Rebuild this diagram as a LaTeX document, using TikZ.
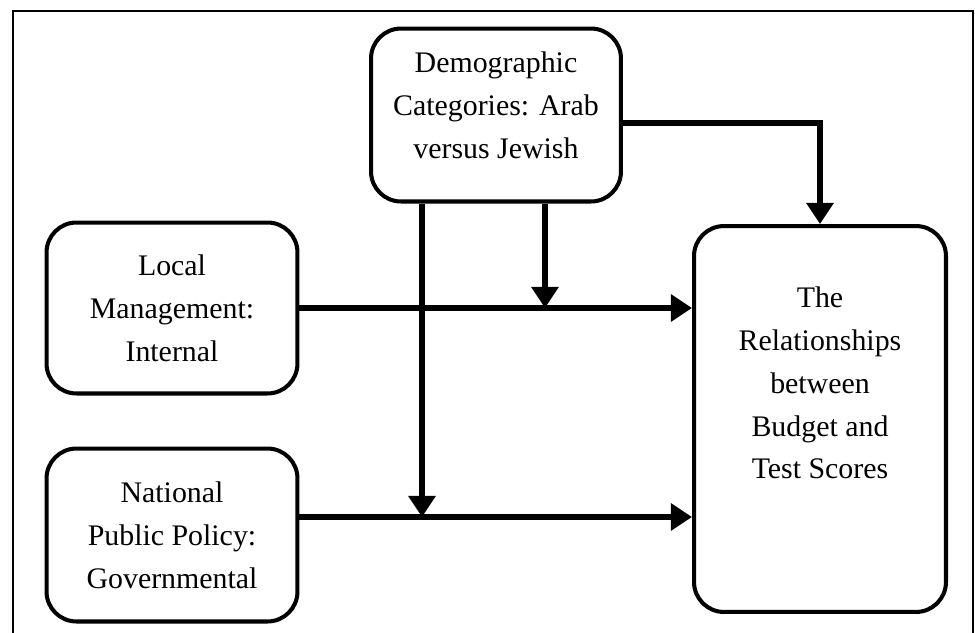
\documentclass[tikz,border=0pt]{standalone}
\usepackage{fontspec}
\setmainfont{Liberation Serif}
\usetikzlibrary{arrows.meta}

\begin{document}
\begin{tikzpicture}[x=0.02cm, y=-0.02cm,
	box/.style={ draw, line width=2.3pt, rounded corners=0.6cm, inner sep=0pt },
	txt/.style={ align=center, font=\fontsize{17}{24.4}\selectfont, inner sep=0pt },
	arr/.style={ line width=3.4pt, -{Triangle[length=12pt,width=15pt]} },
	frame/.style={ line width=1.1pt }
]

\useasboundingbox (0,0) rectangle (975,633);
\draw[frame] (13,633) |- (973,11) -- (973,633);

\node at (496,115) (demo) [box, minimum width=5cm, minimum height=3.46cm] {};
\node at (496,105) (demotxt) [txt] {Demographic\\Categories: Arab\\versus Jewish};
\node at (172,308) (local) [box, txt, minimum width=5.02cm, minimum height=3.42cm] {Local\\Management:\\Internal};
\node at (172,535) (nat) [box, txt, minimum width=5.02cm, minimum height=3.46cm] {National\\Public Policy:\\Governmental};
\node at (820,419) (rel) [box, minimum width=5.04cm, minimum height=7.72cm] {};
\node at (820,383) (reltxt) [txt] {The\\Relationships\\between\\Budget and\\Test Scores};

\coordinate (demoout) at (622,123);
\coordinate (natout) at (298,517);
\coordinate (modloc) at (545,308);
\coordinate (modnat) at (422,517);

\draw[arr] (local.east) to (rel.west |- local.east);
\draw[arr] (natout) to (rel.west |- natout);
\draw[arr] (demoout) -| (rel.north);
\foreach \p in {modloc,modnat} \draw[arr] (demo.south -| \p) to (\p);

\end{tikzpicture}
\end{document}
